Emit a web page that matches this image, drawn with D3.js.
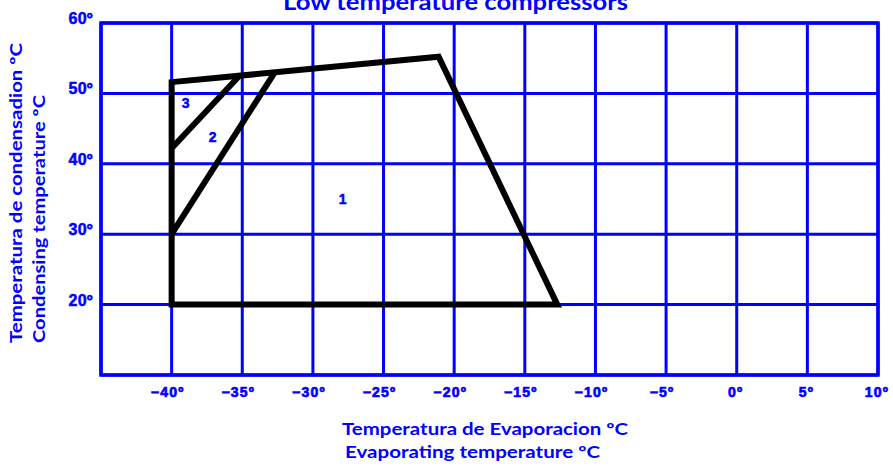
<!DOCTYPE html>
<html><head><meta charset="utf-8">
<script src="https://cdn.jsdelivr.net/npm/d3@7"></script>
<style>
html,body{margin:0;padding:0;background:#fff;}
svg{display:block;}
</style></head>
<body>
<svg id="c" width="893" height="467"></svg>
<script>
// Data
const title = "Low temperature compressors";
const xTicks = [-40, -35, -30, -25, -20, -15, -10, -5, 0, 5, 10];
const yTicks = [20, 30, 40, 50, 60];
const xGrid = [-45, -40, -35, -30, -25, -20, -15, -10, -5, 0, 5, 10];
const yGrid = [10, 20, 30, 40, 50, 60];
// envelope 1 (evaporating, condensing)
const zone1 = [[-40, 20], [-40, 51.6], [-21.1, 55.2], [-12.7, 20]];
// dividing lines
const line2 = [[-40, 30], [-32.7, 53.0]];
const line3 = [[-40, 42.2], [-35.2, 52.5]];
const zoneLabels = [{t: "1", x: -27.9, y: 35}, {t: "2", x: -37.1, y: 43.8}, {t: "3", x: -39.0, y: 48.6}];
const yTitle = ["Temperatura de condensadion ºC", "Condensing temperature ºC"];
const xTitle = ["Temperatura de Evaporacion ºC", "Evaporating temperature ºC"];

const blue = "#0000ff";
const svg = d3.select("#c");
const x = d3.scaleLinear().domain([-45, 10]).range([101, 878]);
const y = d3.scaleLinear().domain([10, 60]).range([375, 23]);

// grid
const g = svg.append("g");
g.selectAll("line.v").data(xGrid).join("line")
  .attr("x1", d => x(d)).attr("x2", d => x(d)).attr("y1", y(60)).attr("y2", y(10))
  .attr("stroke", blue).attr("stroke-width", 3);
g.selectAll("line.h").data(yGrid).join("line")
  .attr("y1", d => y(d)).attr("y2", d => y(d)).attr("x1", x(-45)).attr("x2", x(10))
  .attr("stroke", blue).attr("stroke-width", 3);
g.append("rect").attr("x", x(-45)).attr("y", y(60)).attr("width", x(10) - x(-45)).attr("height", y(10) - y(60))
  .attr("fill", "none").attr("stroke", blue).attr("stroke-width", 3.5);

// tick labels
const tickFont = "'Liberation Sans',Arial,sans-serif";
svg.append("g").selectAll("text").data(yTicks).join("text")
  .attr("x", 93).attr("y", d => y(d) + 1).attr("text-anchor", "end")
  .attr("font-family", tickFont).attr("font-weight", "bold").attr("font-size", 16)
  .attr("letter-spacing", 0.3)
  .attr("fill", blue).attr("stroke", blue).attr("stroke-width", 0.5).text(d => d + "º");
svg.append("g").selectAll("text").data(xTicks).join("text")
  .attr("x", d => x(d) - (d < 0 ? 4 : 1)).attr("y", 397).attr("text-anchor", "middle")
  .attr("font-family", tickFont).attr("font-weight", "bold").attr("font-size", 14)
  .attr("letter-spacing", 1.2)
  .attr("fill", blue).attr("stroke", blue).attr("stroke-width", 0.7).text(d => (d < 0 ? "−" + Math.abs(d) : d) + "º");

// envelope
const line = d3.line().x(d => x(d[0])).y(d => y(d[1]));
svg.append("path").attr("d", line(zone1) + "Z").attr("fill", "none")
  .attr("stroke", "#000").attr("stroke-width", 6).attr("stroke-linejoin", "miter");
[line2, line3].forEach(l => svg.append("path").attr("d", line(l)).attr("fill", "none")
  .attr("stroke", "#000").attr("stroke-width", 6));

svg.append("g").selectAll("text").data(zoneLabels).join("text")
  .attr("x", d => x(d.x)).attr("y", d => y(d.y)).attr("text-anchor", "middle").attr("dominant-baseline", "central")
  .attr("font-family", "'Liberation Sans',Arial,sans-serif").attr("font-weight", "bold").attr("font-size", 14)
  .attr("fill", blue).attr("stroke", blue).attr("stroke-width", 0.5).text(d => d.t);

// titles
const tf = "Lato,'Open Sans',sans-serif";
svg.append("text").attr("x", 283).attr("y", 10)
  .attr("textLength", 345).attr("lengthAdjust", "spacingAndGlyphs")
  .attr("font-family", tf).attr("font-weight", "bold").attr("font-size", 22).attr("fill", blue).text(title);

const yLen = [300, 248];
svg.append("g").selectAll("text").data(yTitle).join("text")
  .attr("transform", (d, i) => `translate(${22 + i * 23},343) rotate(-90)`)
  .attr("textLength", (d, i) => yLen[i]).attr("lengthAdjust", "spacingAndGlyphs")
  .attr("font-family", tf).attr("font-weight", "bold").attr("font-size", 17).attr("fill", blue).text(d => d);

const xLen = [286, 255];
svg.append("g").selectAll("text").data(xTitle).join("text")
  .attr("x", (d, i) => 342 + i * 3).attr("y", (d, i) => 435 + i * 23)
  .attr("textLength", (d, i) => xLen[i]).attr("lengthAdjust", "spacingAndGlyphs")
  .attr("font-family", tf).attr("font-weight", "bold").attr("font-size", 17).attr("fill", blue).text(d => d);
</script>
</body></html>
